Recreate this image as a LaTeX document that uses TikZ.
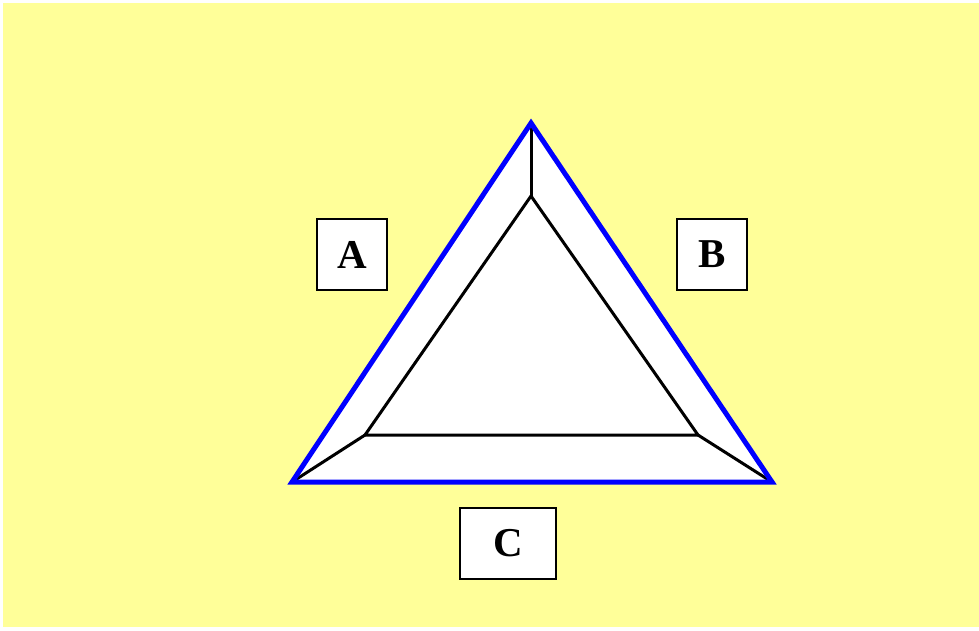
\documentclass[tikz,border=0pt]{standalone}
\usepackage{fontspec}
\setmainfont{Liberation Serif}
\definecolor{bgyellow}{RGB}{255,255,153}
\definecolor{edgeblue}{RGB}{0,0,255}
\begin{document}
\begin{tikzpicture}[x=1pt,y=-1pt,
  labelbox/.style={draw=black,line width=2pt,fill=white,minimum width=70pt,minimum height=71pt,inner sep=0pt,font=\fontsize{41}{44}\selectfont\bfseries},
  outerline/.style={draw=edgeblue,line width=5pt,line join=miter},
  innerline/.style={draw=black,line width=3pt,line join=miter}]
\useasboundingbox (0,0) rectangle (979,630);
\fill[white] (0,0) rectangle (979,630);
\fill[bgyellow] (3,3) rectangle (979,627);
% outer triangle vertices
\coordinate (O1) at (531,123);
\coordinate (O2) at (292,482);
\coordinate (O3) at (772,482);
% inner triangle vertices
\coordinate (I1) at (531,196);
\coordinate (I2) at (365,435);
\coordinate (I3) at (698,435);
\fill[white] (O1) -- (O2) -- (O3) -- cycle;
\draw[innerline] (I1) -- (I2) -- (I3) -- cycle;
\draw[innerline] (O1) -- (I1);
\draw[innerline] (O2) -- (I2);
\draw[innerline] (O3) -- (I3);
\draw[outerline] (O1) -- (O2) -- (O3) -- cycle;
\node[labelbox] (A) at (352,254.5) {\raisebox{-3pt}{A}};
\node[labelbox] (B) at (712,254.5) {\raisebox{-3pt}{B}};
\node[labelbox,minimum width=96pt] (C) at (508,543) {\raisebox{-2pt}{C}};
\end{tikzpicture}
\end{document}
